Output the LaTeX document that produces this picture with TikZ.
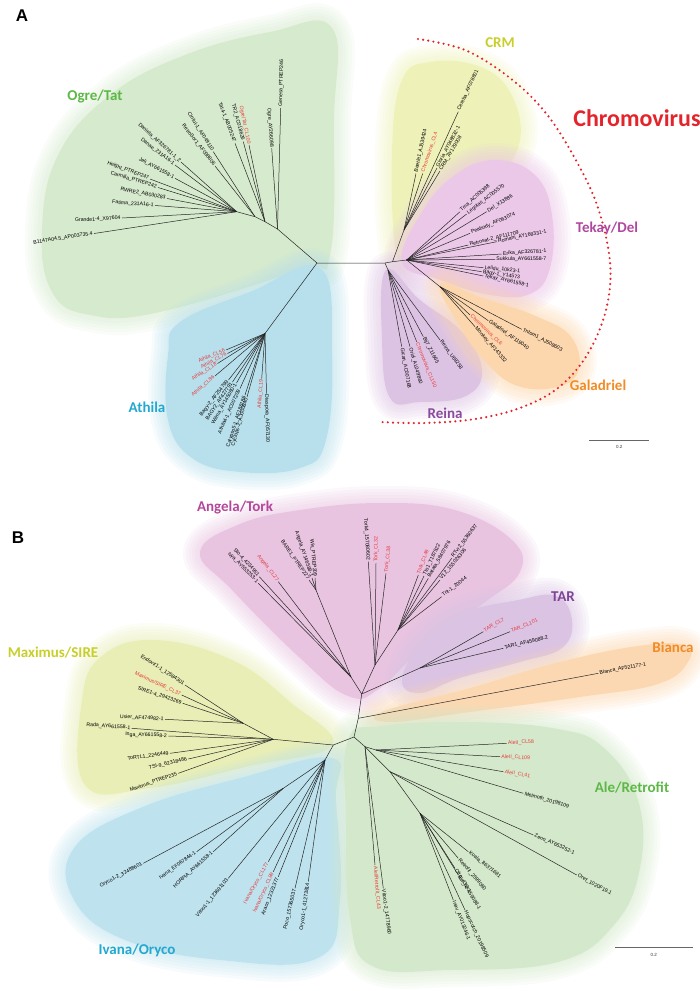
\documentclass[tikz,border=0pt]{standalone}
\usepackage{fontspec}
\setmainfont{Liberation Sans}
\newfontfamily\cladefont{Carlito}
\usepackage{tikz}
\usetikzlibrary{calc}

\definecolor{ogrebg}{HTML}{D6EACD}
\definecolor{athbg}{HTML}{B8E0EC}
\definecolor{crmbg}{HTML}{EEF2B8}
\definecolor{tekbg}{HTML}{EBC8E8}
\definecolor{galbg}{HTML}{FCD7AE}
\definecolor{reibg}{HTML}{DDC3E3}
\definecolor{angbg}{HTML}{E8C4E1}
\definecolor{tarbg}{HTML}{DAC3E3}
\definecolor{biabg}{HTML}{FBD8B2}
\definecolor{maxbg}{HTML}{E8EEB5}
\definecolor{ivabg}{HTML}{BEE3EE}
\definecolor{alebg}{HTML}{D4E9CB}
\definecolor{ogrec}{HTML}{5DB847}
\definecolor{athc}{HTML}{23A8D0}
\definecolor{crmc}{HTML}{C8CF2B}
\definecolor{tekc}{HTML}{B0479E}
\definecolor{galc}{HTML}{F18B25}
\definecolor{reic}{HTML}{8A4B9E}
\definecolor{angc}{HTML}{B5479B}
\definecolor{tarc}{HTML}{7D4597}
\definecolor{chromoc}{HTML}{E3242B}
\definecolor{clred}{HTML}{E63A3A}

\tikzstyle{branch}=[draw=black!85,line width=0.5pt]
\tikzstyle{leaf}=[sloped,pos=1,inner sep=1.2pt,font=\fontsize{5.2}{6}\selectfont]
\tikzstyle{clade}=[font=\cladefont\bfseries\fontsize{15}{16}\selectfont]
\tikzstyle{chromo}=[draw=chromoc,line width=2.4pt,line cap=round,dash pattern=on 0pt off 5.2pt]
\tikzstyle{scalebar}=[draw=black!60,line width=0.6pt]

% leaf to the right / to the left of its parent
\newcommand{\leafR}[5][black]{%
  \coordinate (#3) at (#4);
  \draw[branch] (#2) -- (#3) node[leaf,anchor=west,text=#1] {#5};}
\newcommand{\leafL}[5][black]{%
  \coordinate (#3) at (#4);
  \draw[branch] (#2) -- (#3) node[leaf,anchor=east,text=#1] {#5};}
% soft coloured background of a clade
\newcommand{\blob}[2]{%
  \foreach \w in {34,28,22,16,10,4}
    \draw[#1,line width=\w pt,line join=round,opacity=0.13] plot[smooth cycle,tension=0.7] coordinates {#2};
  \fill[#1] plot[smooth cycle,tension=0.7] coordinates {#2};}

\begin{document}
\begin{tikzpicture}[x=1pt,y=-1pt]
\useasboundingbox (0,0) rectangle (700,991);

% ---------- panel A ----------
\blob{ogrebg}{(332,28) (270,32) (185,55) (110,95) (58,155) (42,230) (52,292) (90,315) (160,312) (300,270) (330,255) (334,120)}
\blob{athbg}{(320,268) (250,292) (180,322) (168,355) (168,420) (192,458) (240,472) (300,468) (326,440) (332,350)}
\blob{crmbg}{(396,252) (392,150) (402,80) (430,62) (478,66) (510,92) (520,140) (495,178) (450,202) (412,242)}
\blob{tekbg}{(402,262) (422,212) (455,175) (495,160) (535,175) (552,215) (550,268) (530,294) (490,295) (440,280)}
\blob{reibg}{(386,270) (420,300) (462,332) (482,370) (466,396) (420,402) (390,398) (382,340)}
\blob{galbg}{(440,284) (480,297) (538,317) (572,338) (578,372) (553,388) (515,385) (487,363) (462,330)}

\draw[chromo] plot[smooth,tension=0.6] coordinates {(418,39) (465,50) (510,78) (545,112) (573,155) (597,205) (610,262) (606,310) (587,355) (558,388) (520,408) (475,419) (425,423) (380,422)};

\node[font=\bfseries\fontsize{17}{18}\selectfont] (labA) at (22,16) {A};

\coordinate (RA) at (317,263);
\coordinate (RB) at (385,263);
\coordinate (OgA) at (277.5,229);
\coordinate (OgB) at (265,221.7);
\coordinate (OgC) at (255,216.7);
\coordinate (OgD) at (236.7,211.7);
\coordinate (At1) at (265,333.5);
\coordinate (Re) at (388,270);
\coordinate (Rc) at (392.5,261.7);
\coordinate (Cr) at (404,230);
\coordinate (Tk) at (406.7,260);
\coordinate (Ga) at (440,286.7);

\draw[branch] (RA) -- (OgA) -- (OgB) -- (OgC) -- (OgD);
\draw[branch] (RA) -- (At1);
\draw[branch] (RA) -- (RB) -- (Rc) -- (Tk) -- (Ga);
\draw[branch] (RB) -- (Re);
\draw[branch] (Rc) -- (Cr);

\leafR{OgA}{genesa}{280.7,108}{Genesa\_PTREP246}
\leafL{OgA}{ogre}{271.7,148.3}{Ogre\_AY266098}
\leafL[clred]{OgB}{ogrecl}{249,145}{Ogre/Tat\_CL100}
\leafL{OgB}{trtwo}{243.3,141.7}{TR2\_AC018626}
\leafL{OgB}{tatfour}{235,143.3}{Tat4-1\_AB005247}
\leafL{OgC}{cinful}{213.3,151.7}{Cinful-1\_AF049110}
\leafL{OgC}{retrosor}{215,166}{RetroSor1\_AF098806}
\leafL{OgD}{daniela}{181,162}{Daniela\_AF326781-1\_2}
\leafL{OgD}{danae}{175,165}{Danae\_231A16-1}
\leafL{OgD}{jeli}{175,178.3}{Jeli\_AY661558-1}
\leafL{OgD}{height}{150,179}{Height\_PTREP247}
\leafL{OgD}{carmilla}{158,187.5}{Carmilla\_PTREP242}
\leafL{OgD}{rwre}{167,198.5}{RWRE2\_AB030283}
\leafL{OgD}{fatima}{155,205.5}{Fatima\_231A16-1}
\leafL{OgD}{grande}{122,218}{Grande1-4\_X97604}
\leafL{OgD}{bacclone}{94,233.5}{B1147A04.5\_AP003735.4}

\leafL[clred]{At1}{athcla}{226,350}{Athila\_CL56}
\leafL[clred]{At1}{athclb}{227.5,353.5}{Athila\_CL76}
\leafL[clred]{At1}{athclc}{217.5,363.5}{Athila\_CL18}
\leafL[clred]{At1}{athcld}{215,376}{Athila\_CL86}
\leafL{At1}{bagytwo}{228.5,380}{Bagy-2\_AF254799}
\leafL{At1}{bagytwob}{232.5,382}{BAGY2\_AF427791}
\leafL{At1}{wilma}{236.5,383}{Wilma\_AY145080-1}
\leafL{At1}{athfour}{240,388.5}{Athila4-1\_AC007209}
\leafL{At1}{calypso}{245,395}{Calypso5-1\_AF186186}
\leafL{At1}{cyclops}{247,397}{Cyclops-2\_AJ000640}
\leafL[clred]{At1}{athcle}{261.7,378.5}{Athila\_CL19}
\leafR{At1}{diaspora}{266.5,393.5}{Diaspora\_AF057130}

\leafR{Cr}{beetle}{416,173.5}{Beetle1\_AJ539424}
\leafR[clred]{Cr}{chrcla}{422.7,173.5}{Chromovirus\_CL4}
\leafR{Cr}{gloria}{437,168}{Gloria\_AY048832-1}
\leafR{Cr}{crmay}{440,171}{CRM\_AY129008}
\leafR{Cr}{cereba}{458.3,111.7}{Cereba\_AF078801}

\leafR{Tk}{tma}{460,211.7}{Tma\_AC005398}
\leafR{Tk}{legolas}{466.7,214}{Legolas\_AC005570}
\leafR{Tk}{del}{486.7,211.7}{Del\_X13886}
\leafR{Tk}{peabody}{470,233.3}{Peabody\_AF063074}
\leafR{Tk}{retrosat}{468.3,245}{Retrosat-2\_AF111709}
\leafR{Tk}{romani}{496.7,241.7}{Romani\_AY168331-1}
\leafR{Tk}{erika}{501.7,254}{Erika\_AF326781-1}
\leafR{Tk}{sukkula}{495,259.3}{Sukkula\_AY661558-7}
\leafR{Tk}{lelidu}{483.3,267.7}{Lelidu\_10k23-1}
\leafR{Tk}{bagyone}{481.7,271.7}{Bagy-1\_Y14573}
\leafR{Tk}{tekay}{483.3,276}{Tekay\_AY661558-1}

\leafR{Ga}{tntom}{521.7,329.3}{Tntom1\_AJ508603}
\leafR{Ga}{galadriel}{488.3,320.7}{Galadriel\_AF119040}
\leafR[clred]{Ga}{chrclb}{470,315}{Chromovirus\_CL6}
\leafR{Ga}{monkey}{475,326.7}{Monkey\_AF143332}

\leafR{Re}{gican}{401.7,346.7}{Gican\_AC007168}
\leafR{Re}{oriol}{410,346.7}{Oriol\_AL049860}
\leafR[clred]{Re}{chrclc}{416.7,341.7}{Chromovirus\_CL150}
\leafR{Re}{bijseven}{423.3,336.7}{Bij7\_Z11665}
\leafR{Re}{reina}{440,340}{Reina\_U69258}

\node[clade,text=ogrec] (cOgre) at (95,97) {Ogre/Tat};
\node[clade,text=athc] (cAthila) at (147,407) {Athila};
\node[clade,text=crmc] (cCRM) at (500,43) {CRM};
\node[font=\cladefont\bfseries\fontsize{24}{26}\selectfont,text=chromoc] (cChromo) at (637,118) {Chromovirus};
\node[clade,text=tekc] (cTekay) at (607,228) {Tekay/Del};
\node[clade,text=galc] (cGal) at (598,385) {Galadriel};
\node[clade,text=reic] (cReina) at (445,413) {Reina};

\coordinate (sbA1) at (589,440.7);
\coordinate (sbA2) at (649.3,440.7);
\draw[scalebar] (sbA1) -- (sbA2) node[midway,below=1pt,font=\fontsize{4.5}{5}\selectfont,text=black!80] {0.2};

% ---------- panel B ----------
\blob{angbg}{(200,552) (240,524) (300,510) (380,503) (455,510) (512,540) (520,572) (485,602) (430,640) (380,688) (348,696) (300,658) (232,590)}
\blob{tarbg}{(402,680) (422,642) (460,614) (518,600) (556,596) (572,620) (562,648) (520,662) (460,678) (420,693)}
\blob{biabg}{(382,712) (470,688) (560,662) (638,646) (684,645) (688,662) (658,684) (580,697) (470,712) (392,722)}
\blob{maxbg}{(332,745) (290,702) (232,660) (155,640) (102,656) (82,700) (85,785) (150,788) (250,766)}
\blob{ivabg}{(332,758) (240,778) (140,808) (74,848) (74,900) (125,940) (220,960) (318,958) (340,900) (336,800)}
\blob{alebg}{(348,740) (382,726) (470,722) (558,729) (604,748) (638,800) (640,868) (614,925) (558,962) (450,970) (372,966) (350,918) (346,820)}

\node[font=\bfseries\fontsize{17}{18}\selectfont] (labB) at (18,538) {B};

\coordinate (B1) at (361.7,694);
\coordinate (B2) at (358.3,718.3);
\coordinate (B3) at (354,737);
\coordinate (B4) at (333.3,745);
\coordinate (B5) at (365,746.7);
\coordinate (AN) at (351,677);
\coordinate (AB) at (316,590);
\coordinate (Tk1) at (375,665);
\coordinate (Tk2) at (398,630);
\coordinate (TRn) at (420,668);
\coordinate (M1) at (273.3,739.3);
\coordinate (M2) at (243.3,723.3);
\coordinate (Iv1) at (325,760);
\coordinate (Iv2) at (283.3,788.3);
\coordinate (AleB) at (376,750);
\coordinate (AleC) at (390,771.7);
\coordinate (AleR) at (420,813.3);

\draw[branch] (B1) -- (B2) -- (B3) -- (B4);
\draw[branch] (B3) -- (B5);
\draw[branch] (B1) -- (AN) -- (AB);
\draw[branch] (B1) -- (Tk1) -- (Tk2);
\draw[branch] (B1) -- (TRn);
\draw[branch] (B4) -- (M1) -- (M2);
\draw[branch] (B4) -- (Iv1) -- (Iv2);
\draw[branch] (B5) -- (AleB);
\draw[branch] (B5) -- (AleC) -- (AleR);

\leafL{AN}{stofour}{259.3,576.7}{Sto-4\_4234951}
\leafL{AN}{ivya}{258.3,583.3}{Ivya\_AY553253-1}
\leafL[clred]{AN}{angcl}{278.3,581.7}{Angela\_CL27}
\leafL{AB}{bare}{309,580}{BARE1\_PTREP227}
\leafL{AB}{angelaay}{312,578}{Angela\_AY146588-1}
\leafL{AB}{wis}{315,578}{Wis\_PTREP209}

\leafL{Tk1}{torkfour}{368.3,561.7}{Tork4\_157080602}
\leafR[clred]{Tk1}{torkcla}{376,563.3}{Tork\_CL32}
\leafR[clred]{Tk1}{torkclb}{386,573.3}{Tork\_CL38}
\leafR[clred]{Tk2}{torkclc}{418.3,575}{Tork\_CL49}
\leafR{Tk2}{tto}{424,576}{Tto1\_T187522}
\leafR{Tk2}{batata}{428.3,578.3}{Batata\_58407976}
\leafR{Tk2}{rtvr}{451.7,558.3}{RTvr2\_55360637}
\leafR{Tk2}{vtwelve}{440,580}{V12\_155026306}
\leafR{Tk2}{tnt}{441.7,596.7}{Tnt-1\_20044}

\leafR[clred]{TRn}{tarcla}{483.3,631.7}{TAR\_CL7}
\leafR[clred]{TRn}{tarclb}{510,631.7}{TAR\_CL101}
\leafR{TRn}{tarone}{503.3,648.3}{TAR1\_AF459088-2}

\leafR{B2}{bianca}{598.3,673.3}{Bianca\_AF521177-1}

\leafL{M2}{endovir}{185,685}{Endovir1-1\_12584301}
\leafL[clred]{M2}{maxcl}{181.7,695}{Maximus/SIRE\_CL37}
\leafL{M2}{sire}{182.7,703.3}{SIRE1-4\_29423269}
\leafL{M2}{usier}{165,719.3}{Usier\_AF474982-1}
\leafL{M1}{rada}{131.7,728.3}{Rada\_AY661558-1}
\leafL{M1}{inga}{168.3,736}{Inga\_AY661558-2}
\leafL{M1}{tortl}{170,753.3}{ToRTL1\_2246449}
\leafL{M1}{tsi}{188.3,759}{TSI-9\_62318486}
\leafL{M1}{maximus}{178.3,773.3}{Maximus\_PTREP235}

\leafL{Iv2}{orycotwo}{143.3,863.3}{Oryco1-2\_32488601}
\leafL{Iv2}{ivana}{196.7,851.7}{Ivana\_EF067844-1}
\leafL{Iv2}{horpia}{213.3,851.7}{HORPIA\_AY661558-1}
\leafL{Iv1}{vitooone}{228.3,878.3}{Vitoo1-1\_123691103}
\leafL[clred]{Iv1}{ivacla}{268.3,861.7}{Ivana/Oryco\_CL177}
\leafL[clred]{Iv1}{ivaclb}{273.3,871.7}{Ivana/Oryco\_CL89}
\leafL{Iv1}{araco}{278.3,876.7}{Araco\_12321377}
\leafL{Iv1}{poco}{295,888.3}{Poco\_157365037}
\leafL{Iv1}{orycoone}{308.3,881.7}{Oryco1-1\_41273814}

\leafR[clred]{AleB}{alecla}{506.7,743.3}{AleII\_CL58}
\leafR[clred]{AleB}{aleclb}{500,756.7}{AleII\_CL109}
\leafR[clred]{AleB}{aleclc}{503.3,771.7}{AleII\_CL41}
\leafR{AleB}{melmoth}{523.3,793.3}{Melmoth\_20198109}
\leafR{AleC}{zeno}{533.3,835}{Zeno\_AY653252-1}
\leafR{AleC}{oref}{576.7,875}{Oref\_1020F19-1}
\leafR{AleR}{koala}{468.3,851.7}{Koala\_86371681}
\leafR{AleR}{retrofit}{458.3,858.3}{Retrofit\_2599080}
\leafR{AleR}{ofrg}{455,868.3}{Ofrg\_432-1}
\leafR{AleR}{aleaf}{458.3,875}{Ale\_AF459088-1}
\leafR{AleR}{hopscotch}{465,910}{Hopscotch\_20198509}
\leafR{AleR}{inav}{453.3,900}{Inav\_AY013246-1}
\leafR[clred]{B5}{alecld}{375,865}{AleI/Retrofit\_CL43}
\leafR{B5}{vitootwo}{383.3,888.3}{Vitoo1-2\_14778960}

\node[clade,text=angc] (cAngela) at (235,508) {Angela/Tork};
\node[clade,text=tarc] (cTAR) at (563,597) {TAR};
\node[clade,text=galc] (cBianca) at (673,647) {Bianca};
\node[clade,text=crmc] (cMax) at (53,653) {Maximus/SIRE};
\node[clade,text=athc] (cIvana) at (137,950) {Ivana/Oryco};
\node[clade,text=ogrec] (cAle) at (632,788) {Ale/Retrofit};

\coordinate (sbB1) at (615,947.3);
\coordinate (sbB2) at (692.7,947.3);
\draw[scalebar] (sbB1) -- (sbB2) node[midway,below=2pt,font=\fontsize{4.5}{5}\selectfont,text=black!80] {0.2};
\end{tikzpicture}
\end{document}
